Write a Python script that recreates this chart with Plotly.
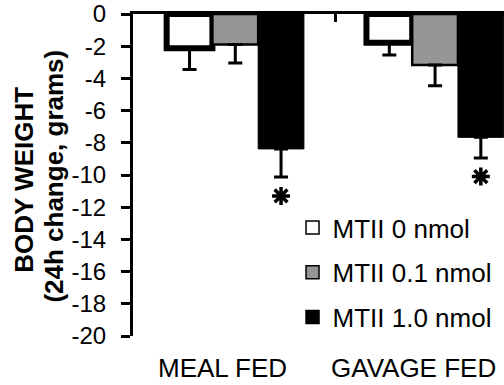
import plotly.graph_objects as go

# ---- data ----
categories = ["MEAL FED", "GAVAGE FED"]
series_names = ["MTII 0 nmol", "MTII 0.1 nmol", "MTII 1.0 nmol"]
values = {
    "MTII 0 nmol":   [-2.12, -1.78],
    "MTII 0.1 nmol": [-1.90, -3.17],
    "MTII 1.0 nmol": [-8.38, -7.66],
}
errors = {
    "MTII 0 nmol":   [1.33, 0.77],
    "MTII 0.1 nmol": [1.15, 1.29],
    "MTII 1.0 nmol": [1.74, 1.29],
}
# significance stars (series, y position of the star per category)
star_series = "MTII 1.0 nmol"
star_y = [-11.3, -10.1]
y_ticks = list(range(-20, 1, 2))
y_ticktext = [str(v) for v in y_ticks]

# ---- styles ----
FONT = "Liberation Sans"
BARGAP = 0.313
colors = {"MTII 0 nmol": "#ffffff", "MTII 0.1 nmol": "#969696", "MTII 1.0 nmol": "#000000"}
line_w = {"MTII 0 nmol": 6, "MTII 0.1 nmol": 2.5, "MTII 1.0 nmol": 1}

xpos = list(range(len(categories)))
fig = go.Figure()
for k, name in enumerate(series_names):
    fig.add_trace(go.Bar(
        x=xpos, y=values[name], name=name, showlegend=False,
        marker=dict(color=colors[name], line=dict(color="black", width=line_w[name])),
        error_y=dict(type="data", symmetric=False, array=[0] * len(xpos),
                     arrayminus=errors[name], color="black", thickness=3, width=7),
    ))

# legend-only entries (small squares with a thin outline)
for name in series_names:
    fig.add_trace(go.Scatter(
        x=[None], y=[None], mode="markers", name=name, legendgroup=name,
        marker=dict(symbol="square", size=13, color=colors[name],
                    line=dict(color="black", width=1.5)),
    ))

# significance stars under the error bars of the chosen series
group_w = 1 - BARGAP
bar_w = group_w / len(series_names)
k = series_names.index(star_series)
off = -group_w / 2 + bar_w * (k + 0.5)
fig.add_trace(go.Scatter(
    x=[p + off for p in xpos], y=star_y, mode="markers", showlegend=False,
    marker=dict(symbol="asterisk-open", size=15, color="black",
                line=dict(color="black", width=3.5)),
    cliponaxis=False, hoverinfo="skip",
))

# category labels below the chart
label_shift = [-13, -22]
for i, cat in enumerate(categories):
    fig.add_annotation(x=xpos[i], xref="x", y=0, yref="paper", yshift=-32,
                       xshift=label_shift[i], text=cat, showarrow=False,
                       xanchor="center", yanchor="middle",
                       font=dict(family=FONT, size=26, color="black"))

# y-axis title (two rotated lines)
fig.add_annotation(x=-0.294, xref="paper", y=0.485, yref="paper", text="<b>BODY WEIGHT</b>",
                   textangle=-90, showarrow=False, xanchor="center", yanchor="middle",
                   font=dict(family=FONT, size=26, color="black"))
fig.add_annotation(x=-0.213, xref="paper", y=0.498, yref="paper", text="<b>(24h change, grams)</b>",
                   textangle=-90, showarrow=False, xanchor="center", yanchor="middle",
                   font=dict(family=FONT, size=26, color="black"))

fig.update_layout(
    width=504, height=385,
    margin=dict(l=133, r=0, t=12, b=49),
    paper_bgcolor="white", plot_bgcolor="white",
    barmode="group", bargap=BARGAP, bargroupgap=0,
    font=dict(family=FONT, color="black"),
    xaxis=dict(range=[-0.512, 1.345], side="top", showline=True, linecolor="black",
               linewidth=2.5, ticks="inside", tickvals=[0.5], ticklen=8, tickwidth=3,
               tickcolor="black", showticklabels=False, showgrid=False, zeroline=False),
    yaxis=dict(range=[-20, 0], tickmode="array", tickvals=y_ticks, ticktext=y_ticktext,
               ticks="outside", ticklen=9, tickwidth=2.5, ticklabeloverflow="allow",
               tickcolor="black", showline=True, linecolor="black", linewidth=3,
               showgrid=False, zeroline=False, tickfont=dict(family=FONT, size=24, color="black"),
               ticklabelstandoff=10),
    legend=dict(x=0.43, y=0.41, xanchor="left", yanchor="top", traceorder="grouped",
                tracegroupgap=8, bgcolor="rgba(0,0,0,0)",
                font=dict(family=FONT, size=26, color="black")),
    showlegend=True,
)

fig.write_html("out.html")
